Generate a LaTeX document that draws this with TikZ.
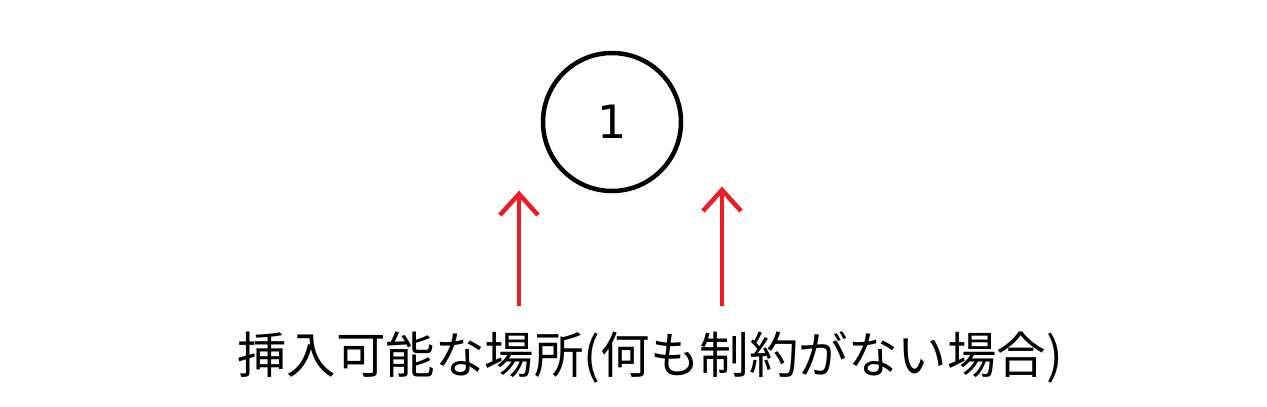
\documentclass[tikz,border=0pt]{standalone}
\usepackage{fontspec}
\usetikzlibrary{calc}
\newfontfamily\jpfont{Noto Sans CJK JP}
\newfontfamily\numfont{DejaVu Sans}
\definecolor{paintred}{HTML}{ED1C24}
\begin{document}
\begin{tikzpicture}[x=1pt,y=-1pt,
  nodecircle/.style={circle,draw=black,line width=4.5pt,minimum size=138pt,inner sep=0pt,font=\numfont\fontsize{46}{46}\selectfont},
  redarrow/.style={draw=paintred,line width=4.5pt}]
\useasboundingbox[fill=white] (0,0) rectangle (1267,407);
\node[nodecircle] (n1) at (612,122) {1};
\coordinate (lb) at (519,306);
\coordinate (lt) at (519,194);
\coordinate (rb) at (722,306);
\coordinate (rt) at (722,190);
\draw[redarrow] (lb) -- (lt);
\draw[redarrow] ($(lt)+(-19,21)$) -- (lt) -- ($(lt)+(19,21)$);
\draw[redarrow] (rb) -- (rt);
\draw[redarrow] ($(rt)+(-19,21)$) -- (rt) -- ($(rt)+(19,21)$);
\node[font=\jpfont\fontsize{49.5}{50}\selectfont,inner sep=0pt] (lbl) at (650,357) {挿入可能な場所(何も制約がない場合)};
\end{tikzpicture}
\end{document}
